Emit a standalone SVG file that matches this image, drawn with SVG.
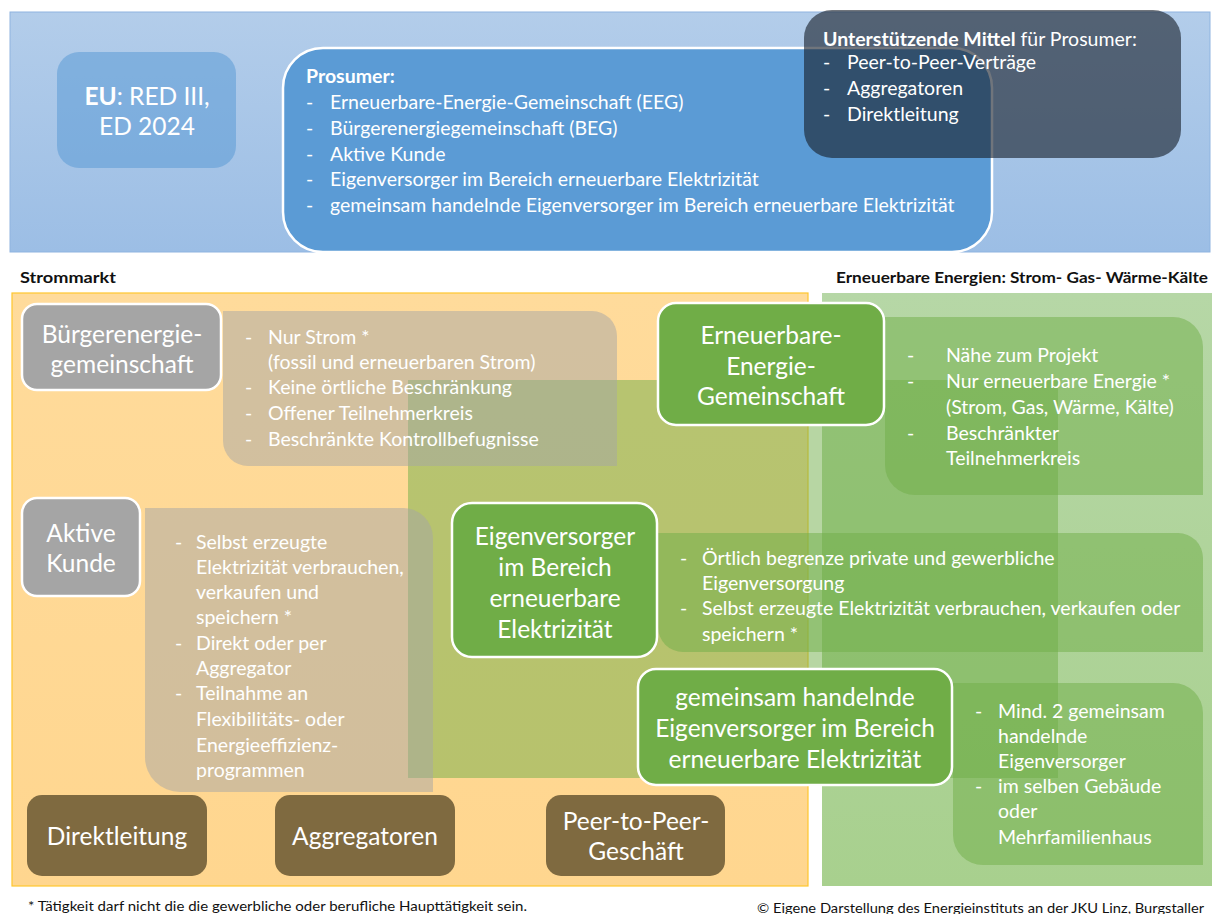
<svg xmlns="http://www.w3.org/2000/svg" width="1212" height="914" viewBox="0 0 1212 914">
<defs>
<linearGradient id="gTop" x1="0" y1="0" x2="0" y2="1"><stop offset="0" stop-color="#b3cdea"/><stop offset="1" stop-color="#9cbee5"/></linearGradient>
<linearGradient id="gOr" x1="0" y1="0" x2="0" y2="1"><stop offset="0" stop-color="#ffdb9b"/><stop offset="1" stop-color="#ffd68f"/></linearGradient>
<linearGradient id="gGr" x1="0" y1="0" x2="0" y2="1"><stop offset="0" stop-color="#b6d7a6"/><stop offset="1" stop-color="#a8d08e"/></linearGradient>
<style>
text{font-family:Lato,"Open Sans","DejaVu Sans",sans-serif;fill:#ffffff}
.t{font-size:19.5px}
.d{font-size:19.5px;fill:#f6f6f6}
.n{font-size:24.5px;text-anchor:middle}
.b{font-weight:bold}
.lab{font-size:16px;font-weight:bold;fill:#111111}
.foot{font-size:13.5px;fill:#111111}
.gray{fill:#a5a5a5;stroke:#ffffff;stroke-width:2.5}
.green{fill:#70ad47;stroke:#ffffff;stroke-width:2.5}
.brown{fill:#7f6a40}
.descT{fill:#a5a5a5;opacity:0.5}
.descG{fill:#70ad47;opacity:0.5}
</style>
</defs>

<g id="panels">
<rect x="10" y="12" width="1200" height="240" fill="url(#gTop)" stroke="#8fb4e0" stroke-width="1"/>
<rect x="12" y="293" width="796" height="593" fill="url(#gOr)" stroke="#ffc62e" stroke-width="1.2"/>
<rect x="822" y="293" width="392" height="593" fill="url(#gGr)"/>
<rect x="408" y="380" width="650" height="398" fill="#70ad47" opacity="0.5"/>
</g>

<g id="labels">
<text class="lab" x="20" y="283" textLength="96" lengthAdjust="spacingAndGlyphs">Strommarkt</text>
<text class="lab" x="836" y="283" textLength="372" lengthAdjust="spacingAndGlyphs">Erneuerbare Energien: Strom- Gas- Wärme-Kälte</text>
</g>

<g id="eu">
<rect x="57" y="52" width="179" height="116" rx="22" fill="#5b9bd5" opacity="0.55"/>
<text class="n" x="147" y="105"><tspan class="b">EU</tspan>: RED III,</text>
<text class="n" x="147" y="135">ED 2024</text>
</g>

<g id="prosumer">
<rect x="283" y="48" width="709" height="204" rx="40" fill="#5b9bd5" stroke="#ffffff" stroke-width="2.5"/>
<text class="t b" x="306" y="83">Prosumer:</text>
<g class="t">
<text x="306" y="109">-</text><text x="330" y="109">Erneuerbare-Energie-Gemeinschaft (EEG)</text>
<text x="306" y="135">-</text><text x="330" y="135">Bürgerenergiegemeinschaft (BEG)</text>
<text x="306" y="161">-</text><text x="330" y="161">Aktive Kunde</text>
<text x="306" y="186">-</text><text x="330" y="186">Eigenversorger im Bereich erneuerbare Elektrizität</text>
<text x="306" y="212">-</text><text x="330" y="212">gemeinsam handelnde Eigenversorger im Bereich erneuerbare Elektrizität</text>
</g>
</g>

<g id="mittel">
<rect x="804" y="10" width="377" height="148" rx="28" fill="#18202c" opacity="0.62"/>
<text class="t" x="823" y="46"><tspan class="b">Unterstützende Mittel</tspan> für Prosumer:</text>
<g class="t">
<text x="823" y="69">-</text><text x="847" y="69">Peer-to-Peer-Verträge</text>
<text x="823" y="95">-</text><text x="847" y="95">Aggregatoren</text>
<text x="823" y="121">-</text><text x="847" y="121">Direktleitung</text>
</g>
</g>

<g id="desc-buerger">
<path class="descT" d="M223,311 H592 A25,25 0 0 1 617,336 V466 H248 A25,25 0 0 1 223,441 Z"/>
<g class="d">
<text x="245" y="344">-</text><text x="268" y="344">Nur Strom *</text>
<text x="268" y="369">(fossil und erneuerbaren Strom)</text>
<text x="245" y="394">-</text><text x="268" y="394">Keine örtliche Beschränkung</text>
<text x="245" y="420">-</text><text x="268" y="420">Offener Teilnehmerkreis</text>
<text x="245" y="446">-</text><text x="268" y="446">Beschränkte Kontrollbefugnisse</text>
</g>
</g>

<g id="desc-aktive">
<path class="descT" d="M145,508 H403 A30,30 0 0 1 433,538 V792 H180 A35,35 0 0 1 145,757 Z"/>
<g class="d">
<text x="175" y="549">-</text><text x="196" y="549">Selbst erzeugte</text>
<text x="196" y="574">Elektrizität verbrauchen,</text>
<text x="196" y="599">verkaufen und</text>
<text x="196" y="624">speichern *</text>
<text x="175" y="650">-</text><text x="196" y="650">Direkt oder per</text>
<text x="196" y="675">Aggregator</text>
<text x="175" y="700">-</text><text x="196" y="700">Teilnahme an</text>
<text x="196" y="726">Flexibilitäts- oder</text>
<text x="196" y="752">Energieeffizienz-</text>
<text x="196" y="777">programmen</text>
</g>
</g>

<g id="desc-eeg">
<path class="descG" d="M885,317 H1173 A30,30 0 0 1 1203,347 V495 H915 A30,30 0 0 1 885,465 Z"/>
<g class="d">
<text x="907" y="362">-</text><text x="946" y="362">Nähe zum Projekt</text>
<text x="907" y="388">-</text><text x="946" y="388">Nur erneuerbare Energie *</text>
<text x="946" y="414">(Strom, Gas, Wärme, Kälte)</text>
<text x="907" y="440">-</text><text x="946" y="440">Beschränkter</text>
<text x="946" y="465">Teilnehmerkreis</text>
</g>
</g>

<g id="desc-eigen">
<path class="descG" d="M658,533 H1178 A25,25 0 0 1 1203,558 V652 H683 A25,25 0 0 1 658,627 Z"/>
<g class="d">
<text x="680" y="565">-</text><text x="702" y="565">Örtlich begrenze private und gewerbliche</text>
<text x="702" y="590">Eigenversorgung</text>
<text x="680" y="615">-</text><text x="702" y="615">Selbst erzeugte Elektrizität verbrauchen, verkaufen oder</text>
<text x="702" y="641">speichern *</text>
</g>
</g>

<g id="desc-gemeinsam">
<path class="descG" d="M953,683 H1173 A30,30 0 0 1 1203,713 V865 H983 A30,30 0 0 1 953,835 Z"/>
<g class="d">
<text x="975" y="718">-</text><text x="998" y="718">Mind. 2 gemeinsam</text>
<text x="998" y="743">handelnde</text>
<text x="998" y="768">Eigenversorger</text>
<text x="975" y="793">-</text><text x="998" y="793">im selben Gebäude</text>
<text x="998" y="818">oder</text>
<text x="998" y="844">Mehrfamilienhaus</text>
</g>
</g>

<g id="node-buerger">
<rect class="gray" x="22" y="304" width="199" height="86" rx="15"/>
<text class="n" x="122" y="343">Bürgerenergie-</text>
<text class="n" x="122" y="373">gemeinschaft</text>
</g>

<g id="node-aktive">
<rect class="gray" x="22" y="498" width="118" height="98" rx="15"/>
<text class="n" x="81" y="542">Aktive</text>
<text class="n" x="81" y="572">Kunde</text>
</g>

<g id="node-eeg">
<rect class="green" x="658" y="303" width="226" height="122" rx="18"/>
<text class="n" x="771" y="344">Erneuerbare-</text>
<text class="n" x="771" y="375">Energie-</text>
<text class="n" x="771" y="405">Gemeinschaft</text>
</g>

<g id="node-eigen">
<rect class="green" x="452" y="503" width="205" height="154" rx="20"/>
<text class="n" x="555" y="545">Eigenversorger</text>
<text class="n" x="555" y="576">im Bereich</text>
<text class="n" x="555" y="607">erneuerbare</text>
<text class="n" x="555" y="638">Elektrizität</text>
</g>

<g id="node-gemeinsam">
<rect class="green" x="638" y="669" width="314" height="116" rx="18"/>
<text class="n" x="795" y="706">gemeinsam handelnde</text>
<text class="n" x="795" y="737">Eigenversorger im Bereich</text>
<text class="n" x="795" y="768">erneuerbare Elektrizität</text>
</g>

<g id="node-direkt">
<rect class="brown" x="27" y="795" width="180" height="81" rx="15"/>
<text class="n" x="117" y="845">Direktleitung</text>
</g>

<g id="node-aggregatoren">
<rect class="brown" x="275" y="795" width="180" height="81" rx="15"/>
<text class="n" x="365" y="845">Aggregatoren</text>
</g>

<g id="node-peer">
<rect class="brown" x="546" y="795" width="179" height="81" rx="15"/>
<text class="n" x="636" y="830">Peer-to-Peer-</text>
<text class="n" x="636" y="860">Geschäft</text>
</g>

<g id="connectors"/>

<g id="footer">
<text class="foot" x="28" y="911" textLength="499" lengthAdjust="spacingAndGlyphs">* Tätigkeit darf nicht die die gewerbliche oder berufliche Haupttätigkeit  sein.</text>
<text class="foot" x="757" y="913" textLength="447" lengthAdjust="spacingAndGlyphs">© Eigene Darstellung des  Energieinstituts an der JKU Linz, Burgstaller</text>
</g>
</svg>
